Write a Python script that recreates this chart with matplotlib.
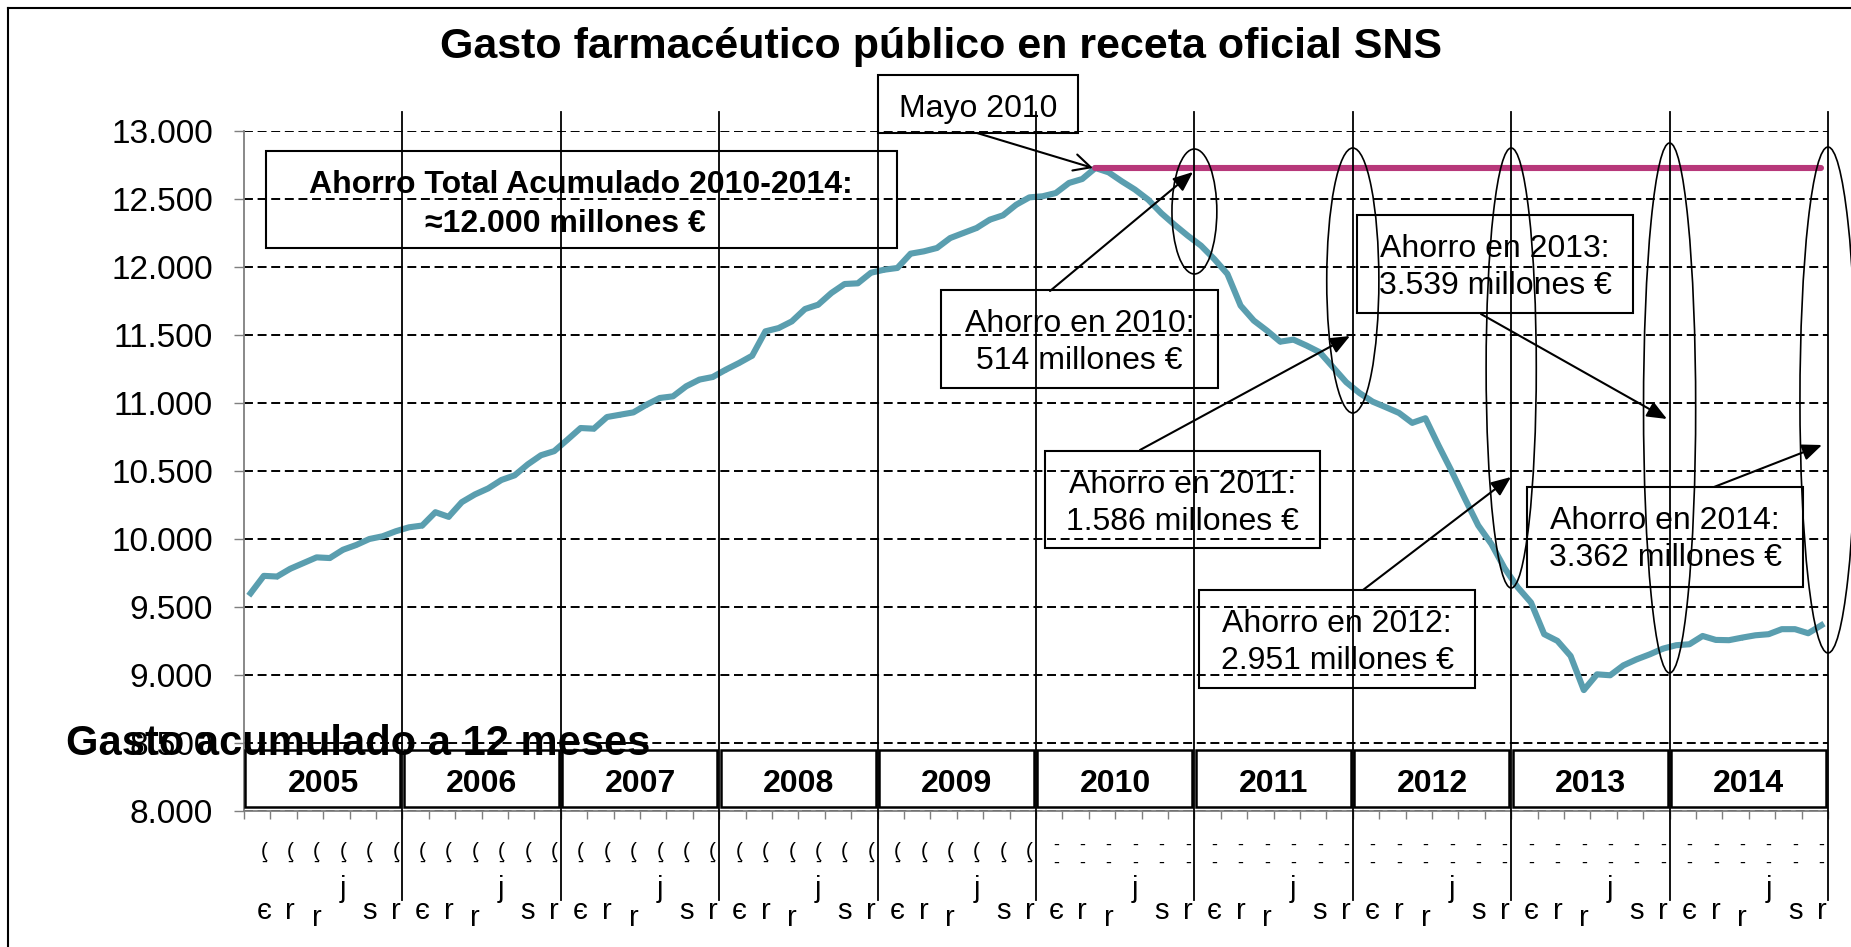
import numpy as np
import matplotlib
matplotlib.use("Agg")
import matplotlib.pyplot as plt
from matplotlib.patches import Rectangle, Ellipse
import matplotlib.transforms as mtransforms

# ---------------- data ----------------
years = [2005, 2006, 2007, 2008, 2009, 2010, 2011, 2012, 2013, 2014]
gasto_2005 = [9601, 9729, 9724, 9781, 9823, 9865, 9860, 9921, 9956, 10000, 10020, 10057]
gasto_2006 = [10086, 10099, 10197, 10163, 10271, 10328, 10372, 10434, 10468, 10549, 10616, 10646]
gasto_2007 = [10730, 10816, 10811, 10897, 10914, 10931, 10988, 11037, 11049, 11123, 11172, 11191]
gasto_2008 = [11245, 11294, 11348, 11527, 11551, 11600, 11691, 11723, 11809, 11875, 11880, 11958]
gasto_2009 = [11980, 11993, 12098, 12115, 12140, 12213, 12250, 12287, 12348, 12380, 12458, 12512]
gasto_2010 = [12520, 12544, 12618, 12647, 12728, 12696, 12630, 12569, 12495, 12395, 12310, 12230]
gasto_2011 = [12157, 12059, 11949, 11716, 11606, 11532, 11451, 11466, 11422, 11373, 11263, 11153]
gasto_2012 = [11074, 11010, 10969, 10927, 10854, 10888, 10687, 10496, 10295, 10100, 9963, 9785]
gasto_2013 = [9644, 9533, 9300, 9251, 9140, 8889, 9005, 8998, 9071, 9115, 9152, 9194]
gasto_2014 = [9219, 9226, 9287, 9258, 9256, 9275, 9292, 9300, 9337, 9337, 9307, 9366]

ahorro_years = [2010, 2011, 2012, 2013, 2014]
ahorro_millones = ["514", "1.586", "2.951", "3.539", "3.362"]
ytick_values = [8000, 8500, 9000, 9500, 10000, 10500, 11000, 11500, 12000, 12500, 13000]

title = "Gasto farmacéutico público en receta oficial SNS"
total_line1 = "Ahorro Total Acumulado 2010-2014:"
total_line2 = "≈12.000 millones €"
peak_label = "Mayo 2010"
side_label = "Gasto acumulado a 12 meses"
# garbled category-label fragments (as they appear in the source)
frag_bottom = ["є", "r", "r", "", "s", "r"]

gasto = (gasto_2005 + gasto_2006 + gasto_2007 + gasto_2008 + gasto_2009 +
         gasto_2010 + gasto_2011 + gasto_2012 + gasto_2013 + gasto_2014)
n = len(gasto)
xs = np.arange(n) + 0.5

# ---------------- style ----------------
W, H = 1851, 947
TEAL = "#5A9EAF"
MAGENTA = "#B7387A"
GRAY = "#7F7F7F"
FONT = ["Liberation Sans", "DejaVu Sans"]
NARROW = ["Liberation Sans Narrow", "Liberation Sans", "DejaVu Sans"]
plt.rcParams["font.family"] = FONT

fig = plt.figure(figsize=(W / 100, H / 100), dpi=100)
fig.patch.set_facecolor("white")

ax_l, ax_r, ax_t, ax_b = 244, 1828, 131, 811
ax = fig.add_axes([ax_l / W, 1 - ax_b / H, (ax_r - ax_l) / W, (ax_b - ax_t) / H])
ax.set_xlim(0, n)
ax.set_ylim(8000, 13000)

ax.plot(xs, gasto, color=TEAL, lw=4.4, marker="+", ms=3, mew=1, zorder=3,
        solid_joinstyle="round")
i_peak = int(np.argmax(gasto))
ax.plot([xs[i_peak], xs[-1]], [gasto[i_peak], gasto[i_peak]], color=MAGENTA,
        lw=4.4, solid_capstyle="round", zorder=4)

ax.set_yticks(ytick_values)
ax.set_yticklabels([f"{v:,}".replace(",", ".") for v in ytick_values], fontsize=24)
ax.yaxis.grid(True, color="black", linestyle=(0, (4.6, 2.4)), lw=1.4)
ax.set_axisbelow(True)
ax.set_xticks(np.arange(0, n + 1, 2))
ax.set_xticklabels([])
ax.tick_params(axis="x", direction="out", length=6, width=1.0, color=GRAY)
ax.tick_params(axis="y", direction="out", length=7.5, width=1.0, color=GRAY, pad=15)
for s in ["top", "right"]:
    ax.spines[s].set_visible(False)
for s in ["left", "bottom"]:
    ax.spines[s].set_color(GRAY)
    ax.spines[s].set_linewidth(1.3)
ax.patch.set_alpha(0)

# ---------------- overlay (pixel coordinates) ----------------
ov = fig.add_axes([0, 0, 1, 1], zorder=5)
ov.set_xlim(0, W)
ov.set_ylim(H, 0)
ov.set_autoscale_on(False)
ov.axis("off")
ov.patch.set_alpha(0)
blend = mtransforms.blended_transform_factory(ax.transData, ov.transData)

# frame of the chart object
ov.plot([8, 8], [8, H], color="black", lw=1.5, clip_on=False)
ov.plot([8, W], [8, 8], color="black", lw=1.5, clip_on=False)

# title
ov.text(941, 58, title, fontsize=31, fontweight="bold", ha="center", va="baseline")

# year separators, year boxes and label fragments
for k, yr in enumerate(years):
    x0 = 12 * k
    if k > 0:
        ov.plot([x0, x0], [112, 900], transform=blend, color="black", lw=1.3, zorder=2)
    ov.add_patch(Rectangle((x0 + 0.1, 750), 11.75, 57, transform=blend, fill=False,
                           ec="black", lw=1.8))
    ov.text(x0 + 6, 792, str(yr), transform=blend, fontsize=23, fontweight="bold",
            ha="center", va="baseline")
    for j in range(6):
        xc = x0 + 2 * j + 1.5
        if yr < 2010:
            ov.text(xc, 851, "(", transform=blend, fontsize=15, ha="center",
                    va="center", family=NARROW)
            ov.text(xc, 862, "-", transform=blend, fontsize=13, ha="center",
                    va="center", family=NARROW)
        else:
            ov.text(xc, 845, "-", transform=blend, fontsize=13, ha="center",
                    va="center", family=NARROW)
            ov.text(xc, 863, "-", transform=blend, fontsize=13, ha="center",
                    va="center", family=NARROW)
        if j == 3:
            ov.text(xc, 897, "j", transform=blend, fontsize=21, ha="center",
                    va="baseline", family=NARROW)
        ch = frag_bottom[j]
        if ch:
            base = 926 if j == 2 else 919
            ov.text(xc, base, ch, transform=blend, fontsize=21, ha="center",
                    va="baseline", family=NARROW)

# final line at right edge
ov.plot([n, n], [112, 900], transform=blend, color="black", lw=1.3)

# side label over the axis
ov.text(358, 755, side_label, fontsize=30, fontweight="bold", ha="center", va="baseline")

# total savings box
ov.add_patch(Rectangle((266, 151), 631, 97, fill=False, ec="black", lw=1.5))
ov.text(581, 193, total_line1, fontsize=23, fontweight="bold", ha="center", va="baseline")
ov.text(565, 232, total_line2, fontsize=23, fontweight="bold", ha="center", va="baseline")

# Mayo 2010 box + arrow
ov.add_patch(Rectangle((878, 75), 200, 58, fill=False, ec="black", lw=1.5))
ov.text(978, 117, peak_label, fontsize=23, ha="center", va="baseline")
ov.annotate("", xy=(1093, 168), xytext=(977, 133),
            arrowprops=dict(arrowstyle="->,head_length=0.6,head_width=0.3",
                            lw=1.5, color="black", mutation_scale=20,
                            shrinkA=0, shrinkB=0))

# yearly savings: boxes (x0, y0, w, h), arrow (start, end), ellipse (w_months, cy, h)
boxes = [(941, 290, 277, 98), (1045, 451, 275, 97), (1199, 590, 276, 98),
         (1357, 215, 276, 98), (1527, 487, 276, 100)]
arrows = [((1050, 291), (1193, 172)), ((1140, 450), (1350, 336)),
          ((1363, 590), (1511, 477)), ((1481, 314), (1667, 419)),
          ((1714, 487), (1822, 445))]
ellipses = [(3.4, 211.5, 125), (3.95, 280.5, 265), (3.8, 368, 440),
            (3.95, 408, 530), (4.25, 400, 506)]

for yr, mill, (bx, by, bw, bh), (p0, p1), (ew, ecy, eh) in zip(
        ahorro_years, ahorro_millones, boxes, arrows, ellipses):
    ov.add_patch(Rectangle((bx, by), bw, bh, fill=False, ec="black", lw=1.5))
    ov.text(bx + bw / 2, by + 42, f"Ahorro en {yr}:", fontsize=23, ha="center",
            va="baseline")
    ov.text(bx + bw / 2, by + 79, f"{mill} millones €", fontsize=23, ha="center",
            va="baseline")
    ov.annotate("", xy=p1, xytext=p0,
                arrowprops=dict(arrowstyle="-|>,head_length=0.6,head_width=0.25",
                                lw=1.5, color="black", mutation_scale=20,
                                shrinkA=0, shrinkB=0))
    kx = 12 * years.index(yr) + 12
    ov.add_patch(Ellipse((kx, ecy), ew, eh, transform=blend, fill=False,
                         ec="black", lw=1.2))

fig.savefig("out.png", dpi=100)
